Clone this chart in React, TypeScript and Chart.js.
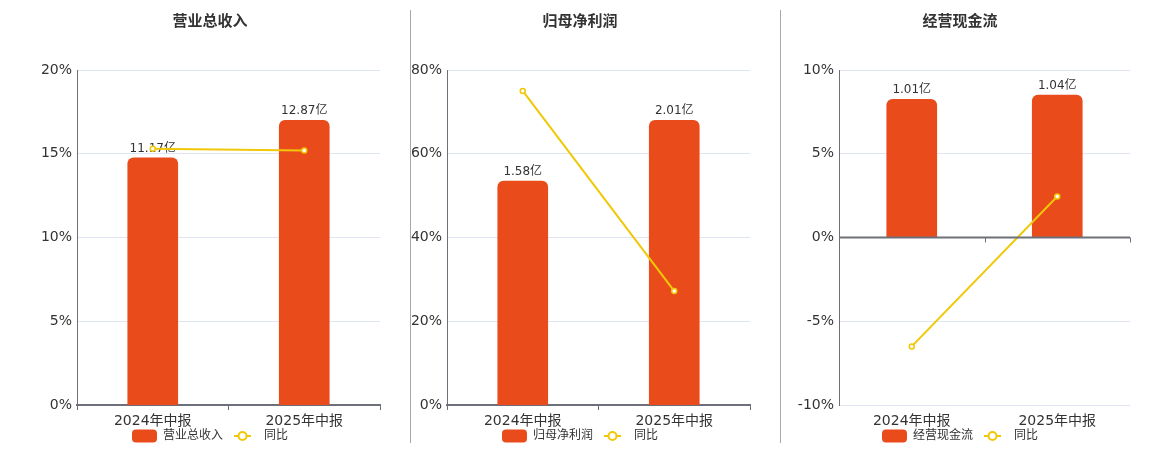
import React from "react"
import { Chart, registerables } from "chart.js"

Chart.register(...registerables)

const FONT = "'DejaVu Sans', 'Noto Sans CJK SC', sans-serif"
const BAR_COLOR = "#E94B1B"
const LINE_COLOR = "#F0C808"
const AXIS_COLOR = "#6E7079"
const GRID_COLOR = "#E0E6F1"

const periods = ["2024年中报", "2025年中报"]

const revenue = [11.17, 12.87]
const revenueYoy = [15.3, 15.2]
const revenueTicks = [0, 5, 10, 15, 20]

const netProfit = [1.58, 2.01]
const netProfitYoy = [75.0, 27.2]
const netProfitTicks = [0, 20, 40, 60, 80]

const cashFlow = [1.01, 1.04]
const cashFlowYoy = [-6.5, 2.45]
const cashFlowTicks = [-10, -5, 0, 5, 10]

const CANVAS_H = 470

function makeBoxImage(color: string) {
  const c = document.createElement("canvas")
  c.width = 25
  c.height = 14
  const ctx = c.getContext("2d")!
  ctx.fillStyle = color
  ctx.beginPath()
  ctx.roundRect(0, 0.5, 25, 13, 4)
  ctx.fill()
  return c
}

function makeLineImage(color: string) {
  const c = document.createElement("canvas")
  c.width = 25
  c.height = 14
  const ctx = c.getContext("2d")!
  ctx.strokeStyle = color
  ctx.lineWidth = 2
  ctx.beginPath()
  ctx.moveTo(1, 7)
  ctx.lineTo(18, 7)
  ctx.stroke()
  ctx.beginPath()
  ctx.arc(9.5, 7, 4, 0, Math.PI * 2)
  ctx.fillStyle = "#fff"
  ctx.fill()
  ctx.stroke()
  return c
}

// value labels above the bars, drawn before the line so the line sits on top
const barLabels = {
  id: "barLabels",
  afterDatasetDraw(chart: any, args: any) {
    if (args.index !== 0) return
    const ctx = chart.ctx
    const meta = chart.getDatasetMeta(0)
    const values = chart.data.datasets[0].data
    ctx.save()
    ctx.font = `12px ${FONT}`
    ctx.fillStyle = "#333"
    ctx.textAlign = "center"
    ctx.textBaseline = "bottom"
    meta.data.forEach((bar: any, i: number) => {
      ctx.fillText(values[i].toFixed(2) + "亿", bar.x, bar.y - 3)
    })
    ctx.restore()
  },
}

// axis line + tick marks on zero when the axis is not at the bottom
const zeroTicks = {
  id: "zeroTicks",
  afterDraw(chart: any, _args: any, opts: any) {
    if (!opts || !opts.enabled) return
    const x = chart.scales.x
    const y0 = chart.scales.y.getPixelForValue(0)
    const ctx = chart.ctx
    ctx.save()
    ctx.strokeStyle = AXIS_COLOR
    ctx.lineWidth = 2
    ctx.beginPath()
    ctx.moveTo(x.left, y0)
    ctx.lineTo(x.right, y0)
    ctx.stroke()
    ctx.lineWidth = 1
    ctx.beginPath()
    for (let i = 0; i <= chart.data.labels.length; i++) {
      const px = Math.round(x.getPixelForValue(i - 0.5)) + 0.5
      ctx.moveTo(px, y0)
      ctx.lineTo(px, y0 + 5)
    }
    ctx.stroke()
    ctx.restore()
  },
}

// the x labels need room below the axis, so pull the legend up over that space
const liftLegend = {
  id: "liftLegend",
  afterLayout(chart: any) {
    if (chart.legend) {
      chart.legend.top -= 10
      chart.legend.bottom -= 10
    }
  },
}

type PanelProps = {
  title: string
  barName: string
  bars: number[]
  yoy: number[]
  ticks: number[]
  left: number
  width: number
  padLeft: number
  axisWidth: number
  padRight: number
}

const Panel = ({ title, barName, bars, yoy, ticks, left, width, padLeft, axisWidth, padRight }: PanelProps) => {
  const chartRef = React.useRef<HTMLCanvasElement>(null)

  React.useEffect(() => {
    if (chartRef.current == null) {
      return
    }

    const yMin = ticks[0]
    const yMax = ticks[ticks.length - 1]
    const zeroFrac = (0 - yMin) / (yMax - yMin)
    const barMax = Math.max(...bars) / 0.85
    const barMin = zeroFrac > 0 ? (-barMax * zeroFrac) / (1 - zeroFrac) : 0
    const zeroInside = yMin < 0

    const boxImg = makeBoxImage(BAR_COLOR)
    const lineImg = makeLineImage(LINE_COLOR)

    const chart = new Chart(chartRef.current, {
      type: "bar",
      data: {
        labels: periods,
        datasets: [
          {
            type: "bar",
            label: barName,
            data: bars,
            backgroundColor: BAR_COLOR,
            borderRadius: { topLeft: 6, topRight: 6, bottomLeft: 0, bottomRight: 0 },
            borderSkipped: false,
            barThickness: 50,
            yAxisID: "y2",
            order: 2,
          },
          {
            type: "line",
            label: "同比",
            data: yoy,
            borderColor: LINE_COLOR,
            borderWidth: 2,
            pointRadius: 2.5,
            pointBorderWidth: 1.5,
            pointBackgroundColor: "#fff",
            pointBorderColor: LINE_COLOR,
            tension: 0,
            yAxisID: "y",
            order: 1,
          },
        ],
      },
      options: {
        responsive: false,
        animation: false,
        layout: {
          autoPadding: false,
          padding: { left: padLeft, right: padRight, top: 0, bottom: CANVAS_H - 462 },
        },
        plugins: {
          title: {
            display: true,
            text: title,
            color: "#333",
            font: { family: FONT, size: 15, weight: "bold" },
            padding: { top: 13, bottom: 39 },
          },
          legend: {
            position: "bottom",
            labels: {
              usePointStyle: true,
              pointStyleWidth: 25,
              boxHeight: 14,
              padding: 10,
              color: "#333",
              font: { family: FONT, size: 12 },
              generateLabels: (c: any) => {
                const items = Chart.defaults.plugins.legend.labels.generateLabels(c)
                return items.map((item: any) => ({
                  ...item,
                  pointStyle: item.datasetIndex === 0 ? boxImg : lineImg,
                }))
              },
              sort: (a: any, b: any) => a.datasetIndex - b.datasetIndex,
            },
          },
          tooltip: { enabled: false },
          zeroTicks: { enabled: zeroInside },
        } as any,
        scales: {
          x: {
            offset: true,
            afterFit: (s: any) => {
              s.height = 25
            },
            border: { display: !zeroInside, color: AXIS_COLOR, width: 2 },
            grid: {
              drawOnChartArea: false,
              drawTicks: true,
              tickLength: 5,
              color: zeroInside ? "rgba(0,0,0,0)" : AXIS_COLOR,
              offset: true,
            },
            ticks: { color: "#333", font: { family: FONT, size: 14 }, padding: 3 },
          },
          y: {
            position: "left",
            min: yMin,
            max: yMax,
            afterFit: (s: any) => {
              s.width = axisWidth
            },
            border: { display: true, color: AXIS_COLOR, width: 1 },
            grid: { color: GRID_COLOR, drawTicks: false },
            ticks: {
              stepSize: ticks[1] - ticks[0],
              color: "#333",
              font: { family: FONT, size: 14 },
              padding: 5,
              callback: (v: any) => v + "%",
            },
          },
          y2: {
            display: false,
            min: barMin,
            max: barMax,
          },
        },
      },
      plugins: [barLabels, zeroTicks, liftLegend],
    })

    return () => {
      chart.destroy()
    }
  }, [])

  return (
    <div style={{ position: "absolute", left, top: 0, width, height: CANVAS_H }}>
      <canvas ref={chartRef} width={width} height={CANVAS_H} />
    </div>
  )
}

const Divider = ({ left }: { left: number }) => (
  <div style={{ position: "absolute", left, top: 10, width: 1, height: 433, background: "#A8A8A8" }} />
)

export default function App() {
  return (
    <div
      style={{
        position: "fixed",
        left: 0,
        top: 0,
        width: 1160,
        height: 450,
        overflow: "hidden",
        background: "#fff",
      }}
    >
      <Panel
        title="营业总收入"
        barName="营业总收入"
        bars={revenue}
        yoy={revenueYoy}
        ticks={revenueTicks}
        left={0}
        width={390}
        padLeft={40}
        axisWidth={37}
        padRight={10}
      />
      <Panel
        title="归母净利润"
        barName="归母净利润"
        bars={netProfit}
        yoy={netProfitYoy}
        ticks={netProfitTicks}
        left={410}
        width={344}
        padLeft={0}
        axisWidth={37}
        padRight={4}
      />
      <Panel
        title="经营现金流"
        barName="经营现金流"
        bars={cashFlow}
        yoy={cashFlowYoy}
        ticks={cashFlowTicks}
        left={780}
        width={360}
        padLeft={10}
        axisWidth={49}
        padRight={10}
      />
      <Divider left={410} />
      <Divider left={780} />
    </div>
  )
}
